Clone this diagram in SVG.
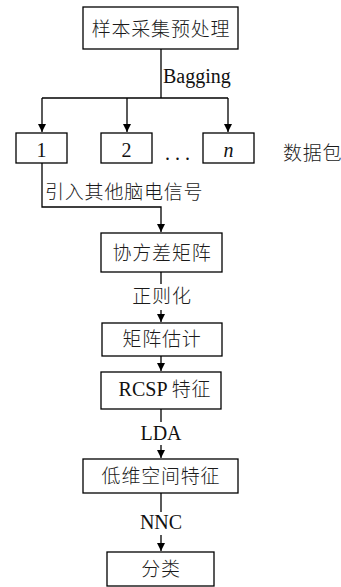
<svg xmlns="http://www.w3.org/2000/svg" width="341" height="587" viewBox="0 0 341 587">
<style>
.box{fill:#fff;stroke:#000;stroke-width:1.3}
.ln{fill:none;stroke:#000;stroke-width:1.3}
.cj{font-family:"Noto Sans CJK SC","Noto Sans",sans-serif;font-size:19px;font-weight:300;fill:#1a1a1a;letter-spacing:0.8px}
.lt{font-family:"Liberation Serif","Times New Roman",serif;font-size:20px;fill:#111}
</style>
<defs>
<marker id="ah" markerUnits="userSpaceOnUse" markerWidth="8" markerHeight="10" refX="8" refY="4" orient="auto">
<path d="M0,0 L8,4 L0,8 Z" fill="#000"/>
</marker>
</defs>
<g id="connectors">
<path class="ln" d="M161,49 V98"/>
<path class="ln" d="M42,98 H228"/>
<path class="ln" d="M42,98 V132" marker-end="url(#ah)"/>
<path class="ln" d="M127,98 V132" marker-end="url(#ah)"/>
<path class="ln" d="M228,98 V132" marker-end="url(#ah)"/>
<path class="ln" d="M42,163 V207 H161 V232" marker-end="url(#ah)"/>
<path class="ln" d="M161,272 V284"/>
<path class="ln" d="M161,310 V322" marker-end="url(#ah)"/>
<path class="ln" d="M161,356 V371" marker-end="url(#ah)"/>
<path class="ln" d="M161,409 V422"/>
<path class="ln" d="M161,445 V458" marker-end="url(#ah)"/>
<path class="ln" d="M161,493 V512"/>
<path class="ln" d="M161,535 V551" marker-end="url(#ah)"/>
<text class="lt" x="163" y="83">Bagging</text>
<text class="cj" x="45" y="199">引入其他脑电信号</text>
<text class="cj" x="162" y="303" text-anchor="middle">正则化</text>
<text class="lt" x="161" y="440" text-anchor="middle">LDA</text>
<text class="lt" x="161" y="529" text-anchor="middle">NNC</text>
</g>
<g id="n_top"><rect class="box" x="83" y="7" width="155" height="42"/><text class="cj" x="161" y="36" text-anchor="middle">样本采集预处理</text></g>
<g id="n_1"><rect class="box" x="16" y="133" width="51" height="30"/><text class="lt" x="41.5" y="157" text-anchor="middle">1</text></g>
<g id="n_2"><rect class="box" x="101" y="133" width="51" height="30"/><text class="lt" x="126.5" y="157" text-anchor="middle">2</text></g>
<g id="n_dots"><text class="lt" x="165" y="160">. . .</text></g>
<g id="n_n"><rect class="box" x="203" y="133" width="51" height="30"/><text class="lt" x="228.5" y="157" text-anchor="middle" font-style="italic">n</text></g>
<g id="n_label"><text class="cj" x="283" y="160">数据包</text></g>
<g id="n_cov"><rect class="box" x="101" y="233" width="121" height="39"/><text class="cj" x="162" y="260" text-anchor="middle">协方差矩阵</text></g>
<g id="n_est"><rect class="box" x="102" y="323" width="120" height="33"/><text class="cj" x="162" y="346" text-anchor="middle">矩阵估计</text></g>
<g id="n_rcsp"><rect class="box" x="101" y="372" width="120" height="37"/><text x="165" y="396" text-anchor="middle"><tspan class="lt">RCSP </tspan><tspan class="cj">特征</tspan></text></g>
<g id="n_low"><rect class="box" x="83" y="459" width="155" height="34"/><text class="cj" x="161" y="483" text-anchor="middle">低维空间特征</text></g>
<g id="n_cls"><rect class="box" x="107" y="552" width="107" height="34"/><text class="cj" x="161" y="576" text-anchor="middle">分类</text></g>
</svg>
